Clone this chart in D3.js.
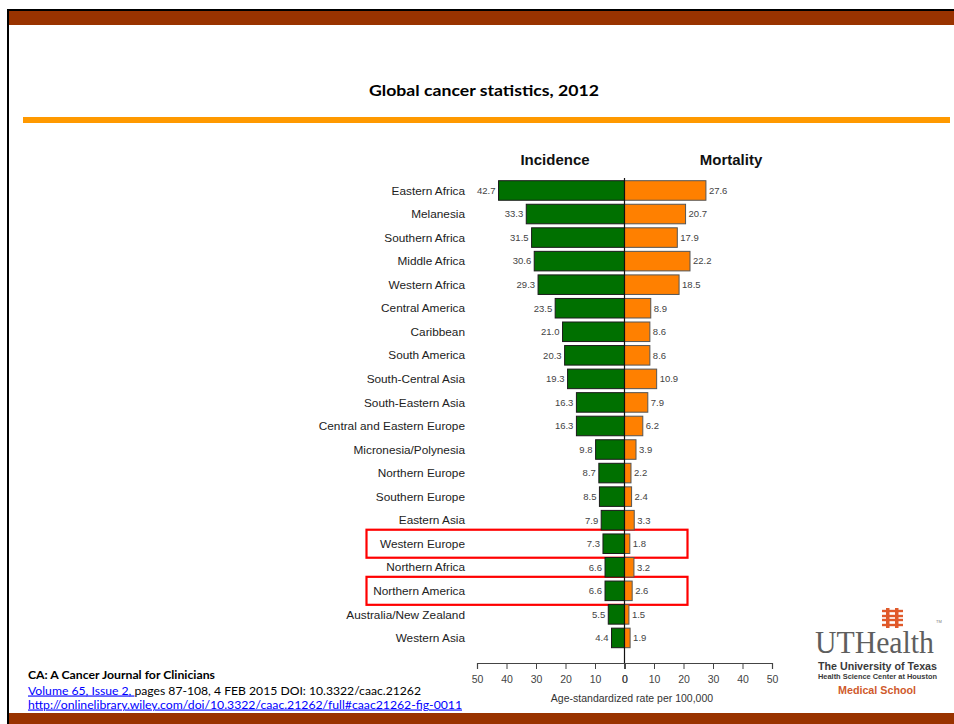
<!DOCTYPE html>
<html>
<head>
<meta charset="utf-8">
<script src="https://cdn.jsdelivr.net/npm/d3@7"></script>
<style>
  html, body { margin: 0; padding: 0; background: #fff; }
  svg { display: block; }
</style>
</head>
<body>
<svg id="chart" width="954" height="724"></svg>
<script>
// Regions, ordered by incidence
const categories = [
  "Eastern Africa", "Melanesia", "Southern Africa", "Middle Africa", "Western Africa",
  "Central America", "Caribbean", "South America", "South-Central Asia", "South-Eastern Asia",
  "Central and Eastern Europe", "Micronesia/Polynesia", "Northern Europe", "Southern Europe",
  "Eastern Asia", "Western Europe", "Northern Africa", "Northern America",
  "Australia/New Zealand", "Western Asia"
];
// Age-standardized rate per 100,000
const incidence = [42.7, 33.3, 31.5, 30.6, 29.3, 23.5, 21.0, 20.3, 19.3, 16.3,
                   16.3, 9.8, 8.7, 8.5, 7.9, 7.3, 6.6, 6.6, 5.5, 4.4];
const mortality = [27.6, 20.7, 17.9, 22.2, 18.5, 8.9, 8.6, 8.6, 10.9, 7.9,
                   6.2, 3.9, 2.2, 2.4, 3.3, 1.8, 3.2, 2.6, 1.5, 1.9];
const highlighted = ["Western Europe", "Northern America"];
const tickValues = [0, 10, 20, 30, 40, 50];

const svg = d3.select("#chart");

// ---- slide frame ----
svg.append("rect").attr("x", 0).attr("y", 0).attr("width", 954).attr("height", 724).attr("fill", "#fff");
svg.append("rect").attr("x", 7).attr("y", 9).attr("width", 947).attr("height", 2).attr("fill", "#000");
svg.append("rect").attr("x", 7).attr("y", 9).attr("width", 2).attr("height", 715).attr("fill", "#000");
svg.append("rect").attr("x", 9).attr("y", 11).attr("width", 945).attr("height", 14).attr("fill", "#993300");
svg.append("rect").attr("x", 9).attr("y", 713).attr("width", 945).attr("height", 11).attr("fill", "#993300");
svg.append("rect").attr("x", 23).attr("y", 117).attr("width", 927).attr("height", 6).attr("fill", "#ff9900");

svg.append("text")
  .attr("x", 484).attr("y", 96)
  .attr("text-anchor", "middle")
  .attr("font-family", "Lato, 'Open Sans', sans-serif")
  .attr("font-weight", "bold")
  .attr("font-size", 16)
  .attr("textLength", 230).attr("lengthAdjust", "spacingAndGlyphs")
  .attr("fill", "#000")
  .text("Global cancer statistics, 2012");

// ---- chart ----
const zeroX = 624.5, half = 147.5;
const xInc = d3.scaleLinear().domain([0, 50]).range([zeroX, zeroX - half]);
const xMort = d3.scaleLinear().domain([0, 50]).range([zeroX, zeroX + half]);
const y = d3.scaleBand().domain(categories).range([178.7, 649.7]).paddingInner(0.17).paddingOuter(0.085);

const rows = categories.map((c, i) => ({ name: c, inc: incidence[i], mort: mortality[i] }));
const g = svg.append("g").attr("font-family", "'Liberation Sans', Arial, sans-serif");

// column headers
g.append("text").attr("x", 555).attr("y", 165).attr("text-anchor", "middle")
  .attr("font-size", 15).attr("font-weight", "bold").attr("fill", "#111").text("Incidence");
g.append("text").attr("x", 731).attr("y", 165).attr("text-anchor", "middle")
  .attr("font-size", 15).attr("font-weight", "bold").attr("fill", "#111").text("Mortality");

// highlight boxes
g.selectAll("rect.hl").data(highlighted).join("rect")
  .attr("class", "hl")
  .attr("x", 366.5)
  .attr("y", d => y(d) + y.bandwidth() / 2 - 14)
  .attr("width", 321)
  .attr("height", 28)
  .attr("fill", "none")
  .attr("stroke", "#ff0000")
  .attr("stroke-width", 2.2);

// incidence bars
g.selectAll("rect.inc").data(rows).join("rect")
  .attr("class", "inc")
  .attr("x", d => xInc(d.inc))
  .attr("y", d => y(d.name))
  .attr("width", d => xInc(0) - xInc(d.inc))
  .attr("height", y.bandwidth())
  .attr("fill", "#007000")
  .attr("stroke", "#1a1a1a")
  .attr("stroke-width", 1);

// mortality bars
g.selectAll("rect.mort").data(rows).join("rect")
  .attr("class", "mort")
  .attr("x", xMort(0))
  .attr("y", d => y(d.name))
  .attr("width", d => xMort(d.mort) - xMort(0))
  .attr("height", y.bandwidth())
  .attr("fill", "#ff8000")
  .attr("stroke", "#555")
  .attr("stroke-width", 1);

// category labels
g.selectAll("text.cat").data(rows).join("text")
  .attr("class", "cat")
  .attr("x", 465)
  .attr("y", d => y(d.name) + y.bandwidth() / 2)
  .attr("dy", "0.35em")
  .attr("text-anchor", "end")
  .attr("font-size", 11.8)
  .attr("fill", "#222")
  .text(d => d.name);

// value labels
g.selectAll("text.incv").data(rows).join("text")
  .attr("class", "incv")
  .attr("x", d => xInc(d.inc) - 3)
  .attr("y", d => y(d.name) + y.bandwidth() / 2)
  .attr("dy", "0.35em")
  .attr("text-anchor", "end")
  .attr("font-size", 9.5)
  .attr("fill", "#444")
  .text(d => d.inc.toFixed(1));

g.selectAll("text.mortv").data(rows).join("text")
  .attr("class", "mortv")
  .attr("x", d => xMort(d.mort) + 3)
  .attr("y", d => y(d.name) + y.bandwidth() / 2)
  .attr("dy", "0.35em")
  .attr("text-anchor", "start")
  .attr("font-size", 9.5)
  .attr("fill", "#444")
  .text(d => d.mort.toFixed(1));

// zero line
g.append("line")
  .attr("x1", zeroX).attr("x2", zeroX)
  .attr("y1", 178).attr("y2", 663)
  .attr("stroke", "#111").attr("stroke-width", 1.2);

// axes
const axisY = 663;
const axL = g.append("g").attr("transform", `translate(0,${axisY})`)
  .call(d3.axisBottom(xInc).tickValues(tickValues).tickSize(6).tickPadding(7).tickFormat(d3.format("d")));
const axR = g.append("g").attr("transform", `translate(0,${axisY})`)
  .call(d3.axisBottom(xMort).tickValues(tickValues).tickSize(6).tickPadding(7).tickFormat(d3.format("d")));
[axL, axR].forEach(ax => {
  ax.attr("color", "#444");
  ax.selectAll("text").attr("font-size", 10.5).attr("font-family", "'Liberation Sans', Arial, sans-serif").attr("fill", "#444");
  ax.select(".domain").attr("stroke-width", 1.2);
});

g.append("text").attr("x", 632).attr("y", 702).attr("text-anchor", "middle")
  .attr("font-size", 10.5).attr("fill", "#333").text("Age-standardized rate per 100,000");

// ---- citation ----
const cite = svg.append("g").attr("font-family", "Lato, 'Open Sans', sans-serif").attr("font-size", 11);
cite.append("text").attr("x", 28).attr("y", 679).attr("font-weight", "bold").attr("fill", "#000")
  .attr("textLength", 187).attr("lengthAdjust", "spacingAndGlyphs")
  .text("CA: A Cancer Journal for Clinicians");
const l2 = cite.append("text").attr("x", 28).attr("y", 694.5).attr("fill", "#000")
  .attr("textLength", 393).attr("lengthAdjust", "spacingAndGlyphs");
l2.append("tspan").attr("fill", "#0000ff").attr("text-decoration", "underline").text("Volume 65, Issue 2, ");
l2.append("tspan").text("pages 87-108, 4 FEB 2015 DOI: 10.3322/caac.21262");
cite.append("text").attr("x", 28).attr("y", 708.5).attr("fill", "#0000ff")
  .attr("text-decoration", "underline")
  .attr("textLength", 434).attr("lengthAdjust", "spacingAndGlyphs")
  .text("http://onlinelibrary.wiley.com/doi/10.3322/caac.21262/full#caac21262-fig-0011");

// ---- institution mark ----
const logo = svg.append("g");
const markColor = "#e0592a";
// woven hash emblem
[[886, 608, 3.5, 20], [895, 608, 3.5, 20]].forEach(([x0, y0, w, h]) =>
  logo.append("rect").attr("x", x0).attr("y", y0).attr("width", w).attr("height", h).attr("fill", markColor));
[611, 616, 620, 625].forEach(yy =>
  logo.append("rect").attr("x", 882).attr("y", yy - 1.2).attr("width", 21).attr("height", 2.4).attr("fill", markColor));
logo.append("text").attr("x", 815).attr("y", 653)
  .attr("font-family", "'Liberation Serif', 'DejaVu Serif', serif")
  .attr("font-size", 31).attr("fill", "#5e5e5e")
  .attr("textLength", 119).attr("lengthAdjust", "spacingAndGlyphs")
  .text("UTHealth");
logo.append("text").attr("x", 936).attr("y", 623)
  .attr("font-family", "'Liberation Sans', Arial, sans-serif").attr("font-size", 4).attr("fill", "#777").text("TM");
logo.append("text").attr("x", 818).attr("y", 670)
  .attr("font-family", "'Liberation Sans', Arial, sans-serif").attr("font-weight", "bold")
  .attr("font-size", 10).attr("fill", "#3a3a3a")
  .attr("textLength", 119).attr("lengthAdjust", "spacingAndGlyphs")
  .text("The University of Texas");
logo.append("text").attr("x", 818).attr("y", 679)
  .attr("font-family", "'Liberation Sans', Arial, sans-serif").attr("font-weight", "bold")
  .attr("font-size", 6.5).attr("fill", "#3a3a3a")
  .attr("textLength", 119).attr("lengthAdjust", "spacingAndGlyphs")
  .text("Health Science Center at Houston");
logo.append("text").attr("x", 838).attr("y", 694)
  .attr("font-family", "'Liberation Sans', Arial, sans-serif").attr("font-weight", "bold")
  .attr("font-size", 10.5).attr("fill", "#cf5a2c")
  .attr("textLength", 78).attr("lengthAdjust", "spacingAndGlyphs")
  .text("Medical School");
</script>
</body>
</html>
